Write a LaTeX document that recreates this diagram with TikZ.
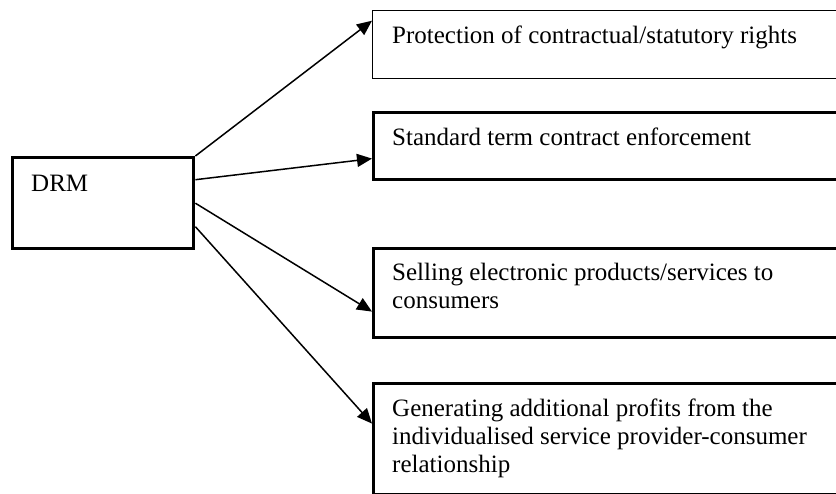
\documentclass[tikz,border=0pt]{standalone}
\usepackage{fontspec}
\setmainfont{Liberation Serif}
\usetikzlibrary{arrows.meta}

\tikzset{
  bigbox/.style={draw, line width=3.2pt, minimum width=468pt, inner sep=0pt, anchor=north west},
  boxtext/.style={anchor=north west, align=left, inner sep=0pt, font=\fontsize{25}{28}\selectfont},
  feed/.style={line width=1.5pt, -{Triangle[length=15pt, width=13pt]}}
}

\begin{document}
\begin{tikzpicture}[x=1pt, y=-1pt]
  \useasboundingbox (0,0) rectangle (836,494);

  % source block
  \node[draw, line width=3.4pt, minimum width=181pt, minimum height=91pt, anchor=north west] (drm) at (11,156) {};
  \node[boxtext] (drmtext) at ([shift={(20pt,-15.4pt)}]drm.north west) {\strut DRM};

  % target blocks, the right edges run off the page
  \node[bigbox, line width=1.4pt, minimum height=68pt] (b1) at (372,10) {};
  \node[bigbox, minimum height=67pt] (b2) at (372,111) {};
  \node[bigbox, minimum height=89pt] (b3) at (372,247) {};
  \node[bigbox, minimum height=111pt] (b4) at (372,382) {};

  % texts sit near the top of each block
  \node[boxtext] (t1) at ([shift={(20pt,-13.4pt)}]b1.north west) {\strut Protection of contractual/statutory rights};
  \node[boxtext] (t2) at ([shift={(20pt,-14.4pt)}]b2.north west) {\strut Standard term contract enforcement};
  \node[boxtext] (t3) at ([shift={(20pt,-13.4pt)}]b3.north west) {\strut Selling electronic products/services to\\consumers};
  \node[boxtext] (t4) at ([shift={(20pt,-14.4pt)}]b4.north west) {\strut Generating additional profits from the\\individualised service provider-consumer\\relationship};

  % arrows out of DRM
  \draw[feed] (drm.north east) -- ([yshift=24pt]b1.west);
  \draw[feed] ([yshift=23.5pt]drm.east) -- ([yshift=-12.5pt]b2.west);
  \draw[feed] (drm.east) -- ([yshift=-18.5pt]b3.west);
  \draw[feed] ([yshift=-23.5pt]drm.east) -- ([yshift=15.5pt]b4.west);
\end{tikzpicture}
\end{document}
